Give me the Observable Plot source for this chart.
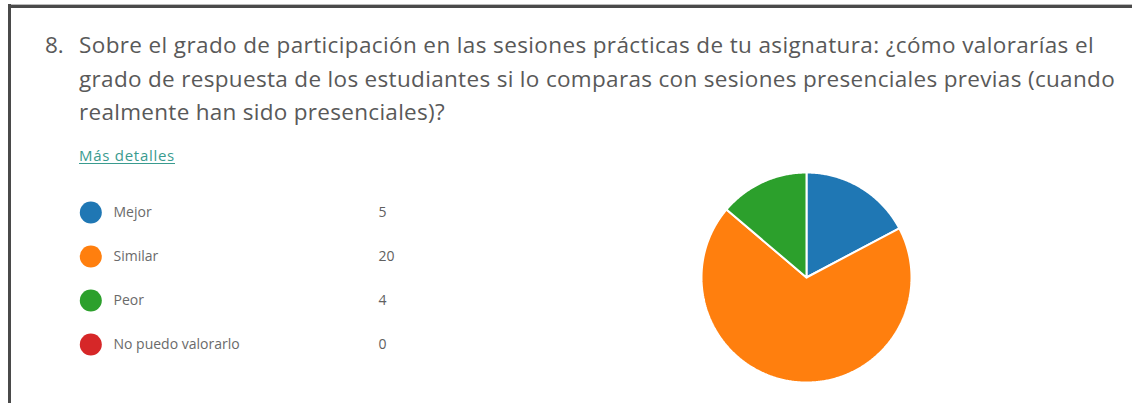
<!DOCTYPE html>
<html>
<head>
<meta charset="utf-8">
<script src="https://cdn.jsdelivr.net/npm/d3@7"></script>
<script src="https://cdn.jsdelivr.net/npm/@observablehq/plot@0.6"></script>
<style>
  html, body { margin: 0; padding: 0; background: #fff; }
  body { width: 1132px; height: 403px; position: relative; overflow: hidden; font-family: "Open Sans", "Noto Sans", sans-serif; }
  #frameTop { position: absolute; left: 8px; top: 4px; width: 1124px; height: 3px; background: #4a4a4a; border-top: 1px solid #bbb; }
  #frameLeft { position: absolute; left: 8px; top: 4px; width: 3px; height: 399px; background: #4a4a4a; }
  .tl { position: absolute; left: 79px; font-size: 22.5px; color: #595959; white-space: nowrap; line-height: 1; }
  #num { position: absolute; left: 45px; font-size: 22.5px; color: #595959; line-height: 1; }
  #more { position: absolute; left: 79px; top: 146px; font-size: 15px; color: #3a9b8f; text-decoration: underline; text-underline-offset: 2px; white-space: nowrap; line-height: 1.2; }
  #legend { position: absolute; left: 79px; top: 190px; }
  #pie { position: absolute; }
</style>
</head>
<body>
<div id="frameTop"></div>
<div id="frameLeft"></div>
<div id="num"></div>
<div id="l1" class="tl"></div>
<div id="l2" class="tl"></div>
<div id="l3" class="tl"></div>
<div id="more"></div>
<div id="legend"></div>
<div id="pie"></div>
<script>
// ---- data ----
const questionNumber = "8.";
const titleLines = [
  "Sobre el grado de participación en las sesiones prácticas de tu asignatura: ¿cómo valorarías el",
  "grado de respuesta de los estudiantes si lo comparas con sesiones presenciales previas (cuando",
  "realmente han sido presenciales)?"
];
const linkText = "Más detalles";
const categories = ["Mejor", "Similar", "Peor", "No puedo valorarlo"];
const counts = [5, 20, 4, 0];
const colors = ["#1f77b4", "#ff7f0e", "#2ca02c", "#d62728"];

// ---- title ----
const tops = [34, 68, 101];
const targets = [1015, 1036, 366];
function fit(el, target) {
  const w = el.getBoundingClientRect().width;
  el.style.letterSpacing = ((target - w) / el.textContent.length) + "px";
}
document.getElementById("num").textContent = questionNumber;
document.getElementById("num").style.top = tops[0] + "px";
titleLines.forEach((t, i) => {
  const el = document.getElementById("l" + (i + 1));
  el.textContent = t;
  el.style.top = tops[i] + "px";
  fit(el, targets[i]);
});
const more = document.getElementById("more");
more.textContent = linkText;
fit(more, 96);

const rows = categories.map((c, i) => ({cat: c, value: counts[i]}));
const color = {domain: categories, range: colors};

// ---- legend ----
const legend = Plot.plot({
  width: 340, height: 175, margin: 0,
  x: {domain: [0, 340], range: [0, 340], axis: null},
  y: {type: "point", domain: categories, range: [20.7, 155], padding: 0, axis: null},
  color,
  style: {fontFamily: "Open Sans, sans-serif", background: "transparent"},
  marks: [
    Plot.dot(rows, {x: () => 11.3, y: "cat", fill: "cat", r: 11, stroke: null}),
    Plot.text(rows, {x: () => 34, y: "cat", text: "cat", textAnchor: "start", fill: "#6a6a6a", fontSize: 14}),
    Plot.text(rows, {x: () => 299, y: "cat", text: d => String(d.value), textAnchor: "start", fill: "#606060", fontSize: 14})
  ]
});
document.getElementById("legend").appendChild(legend);

// ---- pie ----
const arcs = d3.pie().sort(null).value(d => d.value)(rows).filter(a => a.data.value > 0);
const pts = [];
for (const a of arcs) {
  pts.push({cat: a.data.cat, x: 0, y: 0});
  const n = Math.max(2, Math.ceil((a.endAngle - a.startAngle) / 0.01));
  for (let k = 0; k <= n; k++) {
    const t = a.startAngle + (a.endAngle - a.startAngle) * k / n;
    pts.push({cat: a.data.cat, x: Math.sin(t), y: Math.cos(t)});
  }
  pts.push({cat: a.data.cat, x: 0, y: 0});
}
const R = 105, S = 230;
const pie = Plot.plot({
  width: S, height: S, margin: 0,
  x: {domain: [-S / 2 / R, S / 2 / R], axis: null},
  y: {domain: [-S / 2 / R, S / 2 / R], axis: null},
  color,
  style: {background: "transparent"},
  marks: [
    Plot.line(pts, {x: "x", y: "y", z: "cat", fill: "cat", stroke: "white", strokeWidth: 2, strokeLinejoin: "miter"})
  ]
});
const pieDiv = document.getElementById("pie");
pieDiv.style.left = (806 - S / 2) + "px";
pieDiv.style.top = (277 - S / 2) + "px";
pieDiv.appendChild(pie);
</script>
</body>
</html>
